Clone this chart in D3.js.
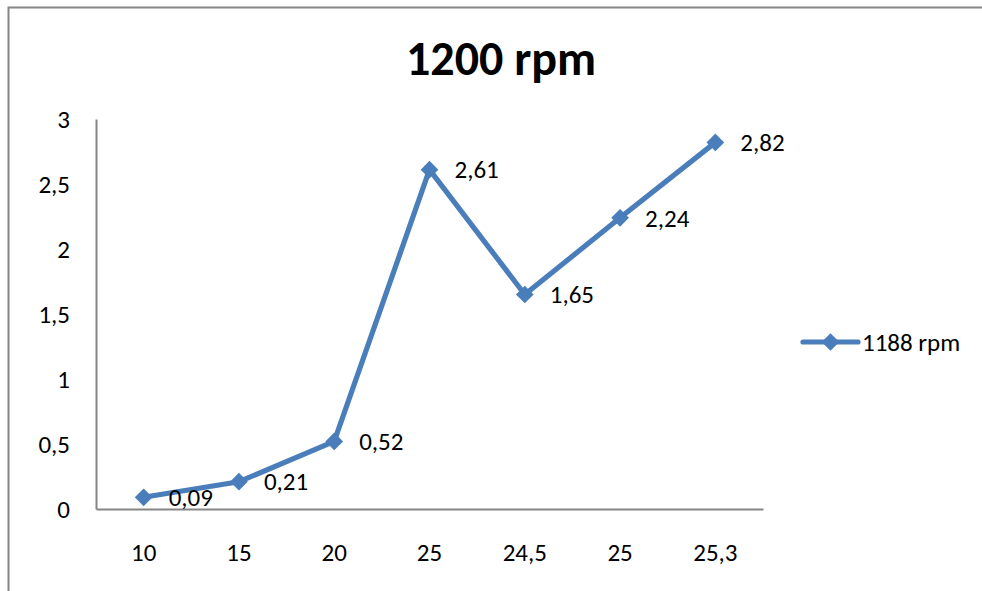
<!DOCTYPE html>
<html>
<head>
<meta charset="utf-8">
<script src="https://cdn.jsdelivr.net/npm/d3@7"></script>
<style>
  body { margin: 0; background: #fff; }
  svg text { font-family: Carlito, Lato, "Open Sans", sans-serif; fill: #000; }
</style>
</head>
<body>
<svg width="982" height="591"></svg>
<script>
// chart data
var categories = ["10", "15", "20", "25", "24,5", "25", "25,3"];
var values = [0.09, 0.21, 0.52, 2.61, 1.65, 2.24, 2.82];
var labels = ["0,09", "0,21", "0,52", "2,61", "1,65", "2,24", "2,82"];
var yTicks = [0, 0.5, 1, 1.5, 2, 2.5, 3];
var seriesName = "1188 rpm";
var chartTitle = "1200 rpm";

var svg = d3.select("svg"),
  width = +svg.attr("width"),
  height = +svg.attr("height");
var blue = "#4a7ebb";
var fs = "25px";
var fmt = function(v) { return String(v).replace(".", ","); };

// outer frame (only left and top edges show in the crop)
svg.append("path")
  .attr("d", "M8.5,591V7.5H982")
  .attr("fill", "none")
  .attr("stroke", "#868686")
  .attr("stroke-width", 2);

var plot = { left: 96, top: 119, right: 763, bottom: 509 };

// x uses index so the repeated "25" gets its own slot
var x = d3.scaleBand()
  .domain(d3.range(categories.length))
  .range([plot.left, plot.right]);
var y = d3.scaleLinear()
  .domain([0, 3])
  .range([plot.bottom, plot.top]);

// title
svg.append("text")
  .attr("x", 501)
  .attr("y", 58)
  .attr("text-anchor", "middle")
  .attr("dominant-baseline", "central")
  .style("font-size", "48px")
  .style("font-weight", "bold")
  .text(chartTitle);

// y axis
var yAxis = svg.append("g")
  .attr("transform", "translate(" + plot.left + ",0)")
  .call(d3.axisLeft(y).tickValues(yTicks).tickSize(0).tickPadding(26).tickFormat(fmt));
yAxis.select(".domain").attr("stroke", "#868686").attr("stroke-width", 2);
yAxis.selectAll("text").style("font-size", fs).attr("dy", "0.35em");

// x axis
var xAxis = svg.append("g")
  .attr("transform", "translate(0," + plot.bottom + ")")
  .call(d3.axisBottom(x).tickSize(0).tickPadding(43).tickFormat(function(i) { return categories[i]; }));
xAxis.select(".domain").attr("stroke", "#868686").attr("stroke-width", 2);
xAxis.selectAll("text").style("font-size", fs).attr("dy", "0.35em");

var cx = function(d, i) { return x(i) + x.bandwidth() / 2; };

// series line
var line = d3.line()
  .x(function(d, i) { return cx(d, i); })
  .y(function(d) { return y(d); });

svg.append("path")
  .datum(values)
  .attr("d", line)
  .attr("fill", "none")
  .attr("stroke", blue)
  .attr("stroke-width", 5.2)
  .attr("stroke-linejoin", "round");

// diamond markers
var diamond = d3.symbol().type(d3.symbolDiamond2).size(200);
svg.append("g")
  .selectAll("path")
  .data(values)
  .enter().append("path")
  .attr("d", diamond)
  .attr("fill", blue)
  .attr("transform", function(d, i) { return "translate(" + cx(d, i) + "," + y(d) + ")"; });

// data labels to the right of the points
svg.append("g")
  .selectAll("text")
  .data(values)
  .enter().append("text")
  .attr("x", function(d, i) { return cx(d, i) + 25; })
  .attr("y", function(d) { return y(d); })
  .attr("dy", "0.35em")
  .style("font-size", fs)
  .text(function(d, i) { return labels[i]; });

// legend
var lg = svg.append("g").attr("transform", "translate(803,342)");
lg.append("line")
  .attr("x1", 0).attr("x2", 55)
  .attr("stroke", blue)
  .attr("stroke-width", 5.2)
  .attr("stroke-linecap", "round");
lg.append("path")
  .attr("d", diamond)
  .attr("fill", blue)
  .attr("transform", "translate(27.5,0)");
lg.append("text")
  .attr("x", 59)
  .attr("dy", "0.35em")
  .style("font-size", fs)
  .text(seriesName);
</script>
</body>
</html>
